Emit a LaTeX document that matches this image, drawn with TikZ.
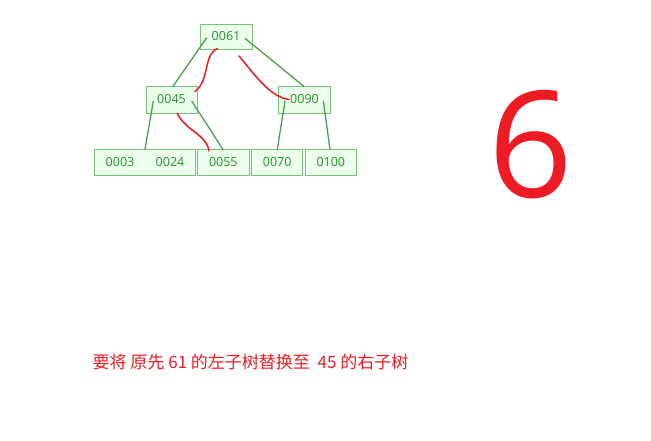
\documentclass[tikz,border=0pt]{standalone}
\usepackage{fontspec}
\setmainfont{Open Sans}
\newfontfamily\cjk{Noto Sans CJK SC}
\definecolor{boxfill}{RGB}{236,255,236}
\definecolor{boxdraw}{RGB}{120,195,120}
\definecolor{boxtext}{RGB}{45,140,45}
\definecolor{edge}{RGB}{75,160,75}
\definecolor{redc}{RGB}{237,28,36}
\tikzset{
  keybox/.style={draw=boxdraw, fill=boxfill, line width=0.9pt, inner sep=0pt, text=boxtext, font=\fontsize{12.5}{13}\selectfont},
  keytext/.style={text=boxtext, font=\fontsize{12.5}{13}\selectfont, inner sep=0pt},
  edgeline/.style={draw=edge, line width=1.3pt},
  redline/.style={draw=redc, line width=1.5pt, line cap=round},
}
\begin{document}
\begin{tikzpicture}[x=1pt,y=-1pt]
\useasboundingbox[fill=white] (0,0) rectangle (651,441);
% boxes
\node[keybox, minimum width=52pt, minimum height=25pt] (n61) at (226,36.5) {0061};
\node[keybox, minimum width=51pt, minimum height=27pt] (n45) at (171.5,99.5) {0045};
\node[keybox, minimum width=52pt, minimum height=27pt] (n90) at (304.5,99.5) {0090};
\node[keybox, minimum width=101pt, minimum height=26pt] (n3) at (144.5,162) {};
\node[keytext] (t3) at (120,162) {0003};
\node[keytext] (t24) at (170,162) {0024};
\node[keybox, minimum width=52pt, minimum height=26pt] (n55) at (223.3,162) {0055};
\node[keybox, minimum width=51pt, minimum height=26pt] (n70) at (277.2,162) {0070};
\node[keybox, minimum width=51.5pt, minimum height=26pt] (n100) at (330.8,162) {0100};
% connector end points
\coordinate (a61l) at (206.7,37.7);
\coordinate (a61r) at (245,38.3);
\coordinate (a45t) at (172.7,86.7);
\coordinate (a90t) at (304.3,86.7);
\coordinate (a45l) at (153.3,101);
\coordinate (a45r) at (191.7,101);
\coordinate (a90l) at (285,101);
\coordinate (a90r) at (323.3,101);
\coordinate (a3t) at (145,149.3);
\coordinate (a55t) at (223.3,150);
\coordinate (a70t) at (277.3,149.3);
\coordinate (a100t) at (330,149.3);
% green edges
\draw[edgeline] (a61l) -- (a45t);
\draw[edgeline] (a61r) -- (a90t);
\draw[edgeline] (a45l) -- (a3t);
\draw[edgeline] (a45r) -- (a55t);
\draw[edgeline] (a90l) -- (a70t);
\draw[edgeline] (a90r) -- (a100t);
% red curves
\coordinate (r1a) at (217.5,48.5);
\coordinate (r1b) at (195,91.5);
\coordinate (r2a) at (239,56);
\coordinate (r2b) at (289,99.5);
\coordinate (r3a) at (177.3,113.3);
\coordinate (r3b) at (209,151);
\draw[redline] (r1a) .. controls (203,55) and (210,80) .. (r1b);
\draw[redline] (r2a) .. controls (255,75) and (270,97) .. (r2b);
\draw[redline] (r3a) .. controls (185,130) and (207,135) .. (r3b);
% big number
\node[text=redc, font=\fontsize{148}{150}\selectfont, inner sep=0pt] (big) at (531,145) {6};
% caption
\node[text=redc, font=\cjk\fontsize{17}{18}\selectfont, anchor=west, inner sep=0pt] (cap) at (92.5,362) {要将 原先 61 的左子树替换至 \ 45 的右子树};
\end{tikzpicture}
\end{document}
